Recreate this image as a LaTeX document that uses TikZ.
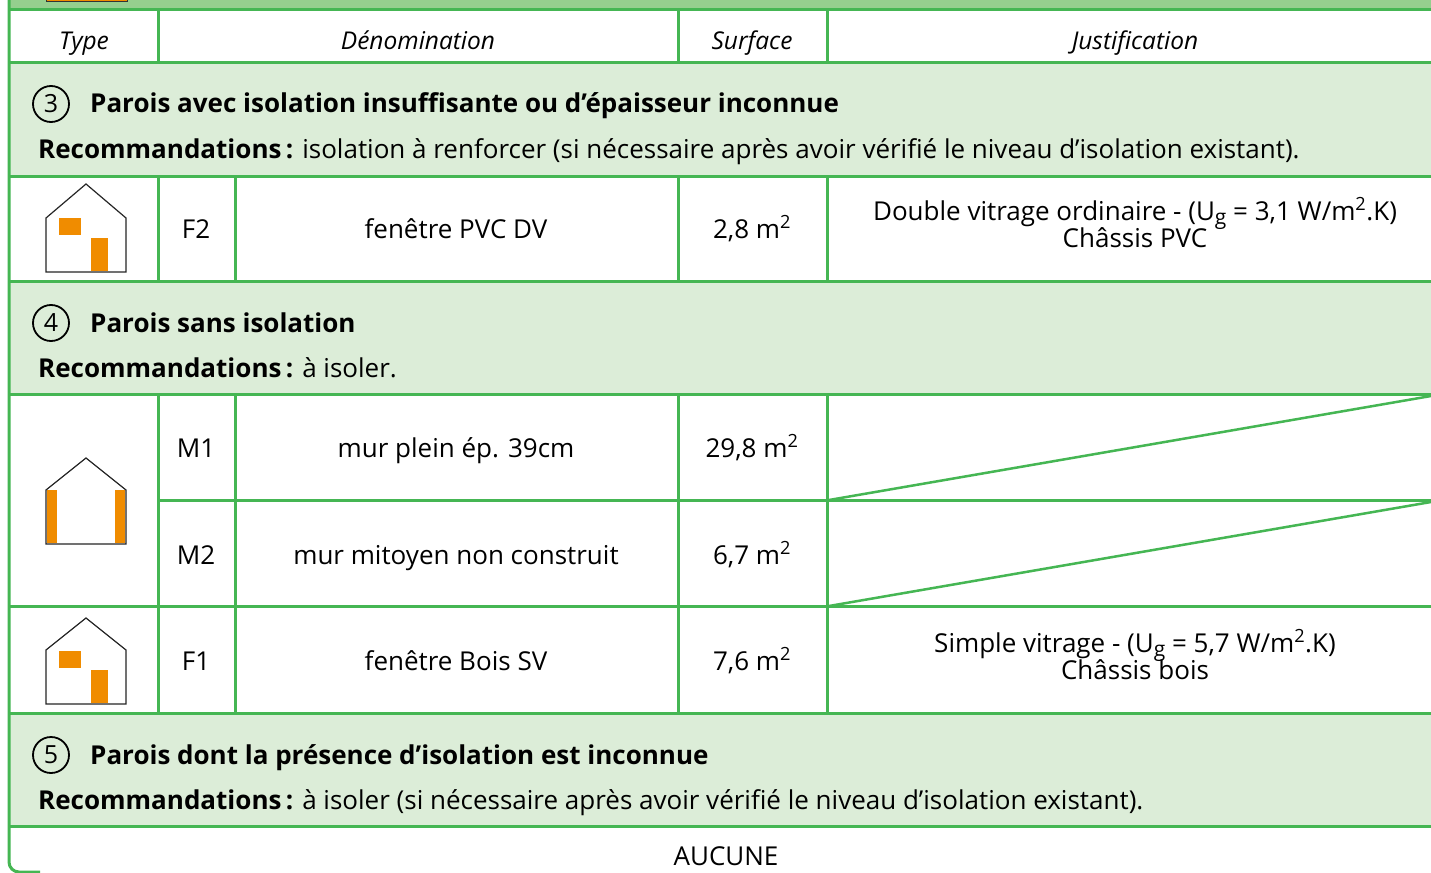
\documentclass[tikz,border=0pt]{standalone}
\usepackage{fontspec}
\setmainfont{Open Sans}
\definecolor{gline}{HTML}{45B653}
\definecolor{gfill}{HTML}{DCEDD8}
\definecolor{gtop}{HTML}{95CF8E}
\definecolor{orng}{HTML}{F08C00}
\newcommand{\sq}{\textsuperscript{2}}
\newcommand{\Ug}{U\raisebox{-0.35ex}{\fontsize{21}{21}\selectfont g}}
\begin{document}
\begin{tikzpicture}[x=1pt,y=-1pt,
  grid/.style={draw=gline,line width=3pt},
  body/.style={font=\fontsize{26}{28}\selectfont,inner sep=0pt,anchor=base},
  hdr/.style={font=\fontsize{24.5}{28}\selectfont\itshape,inner sep=0pt,anchor=base},
  ttl/.style={font=\fontsize{26}{28}\selectfont\bfseries,inner sep=0pt,anchor=base west},
  rec/.style={font=\fontsize{26}{28}\selectfont,inner sep=0pt,anchor=base west},
  num/.style={circle,draw=black,line width=1.8pt,minimum size=36pt,inner sep=0pt,font=\fontsize{25}{28}\selectfont},
  just/.style={font=\fontsize{26}{28}\selectfont,inner sep=0pt,align=center,anchor=base},
  house/.style={draw=black!85,line width=1.2pt,fill=white},
  orangebox/.style={fill=orng}]
\useasboundingbox (0,0) rectangle (1431,872);
\fill[white] (0,0) rectangle (1431,872);
% top strip
\fill[gtop] (9,0) rectangle (1431,10);
\filldraw[fill=orng,draw=black!80,line width=1pt] (46,-5) rectangle (127,1.5);
% section fills
\fill[gfill] (9,63) rectangle (1431,176);
\fill[gfill] (9,281) rectangle (1431,394);
\fill[gfill] (9,713) rectangle (1431,826);
% horizontal lines
\foreach \yy in {10,63,176,281,394,606,713,826}
  \draw[grid] (9,\yy) -- (1431,\yy);
\draw[grid] (158,500) -- (1431,500);
% left border with rounded bottom corner
\draw[grid,rounded corners=10pt] (9,-2) -- (9,872) -- (40,872);
% verticals
\foreach \xx in {158,678,827} \draw[grid] (\xx,10) -- (\xx,63);
\foreach \xx in {158,235,678,827} \draw[grid] (\xx,176) -- (\xx,281);
\foreach \xx in {158,235,678,827} \draw[grid] (\xx,394) -- (\xx,713);
% diagonals
\coordinate (d1a) at (829,500); \coordinate (d1b) at (1431,396);
\coordinate (d2a) at (829,606); \coordinate (d2b) at (1431,502);
\draw[draw=gline,line width=2.5pt] (d1a) -- (d1b);
\draw[draw=gline,line width=2.5pt] (d2a) -- (d2b);
% header
\node[hdr] (hType) at (84,50) {Type};
\node[hdr] (hDen) at (418,50) {Dénomination};
\node[hdr] (hSurf) at (752,50) {Surface};
\node[hdr] (hJust) at (1135,50) {Justification};
% section 3
\node[num] (n3) at (51,104) {3};
\node[ttl] (t3) at (90,113) {Parois avec isolation insuffisante ou d’épaisseur inconnue};
\node[rec] (r3) at (38,158) {\textbf{Recommandations\,:} isolation à renforcer (si nécessaire après avoir vérifié le niveau d’isolation existant).};
% F2 row
\draw[house] (46,272) -- (46,218) -- (86,184) -- (126,218) -- (126,272) -- cycle;
\fill[orangebox] (59,218) rectangle (81,235);
\fill[orangebox] (91,238) rectangle (108,271.4);
\node[body] (f2) at (196,238) {F2};
\node[body] (f2d) at (456,238) {fenêtre PVC DV};
\node[body] (f2s) at (752,238) {2,8 m\sq};
\node[just] (f2j1) at (1135,220) {Double vitrage ordinaire - (\Ug{} = 3,1 W/m\sq.K)};
\node[just] (f2j2) at (1135,247) {Châssis PVC};
% section 4
\node[num] (n4) at (51,323) {4};
\node[ttl] (t4) at (90,332) {Parois sans isolation};
\node[rec] (r4) at (38,377) {\textbf{Recommandations\,:} à isoler.};
% M icon
\draw[house] (46,544) -- (46,490) -- (86,458) -- (126,490) -- (126,544) -- cycle;
\fill[orangebox] (46.6,490) rectangle (57,543.4);
\fill[orangebox] (115,490) rectangle (125.4,543.4);
\node[body] (m1) at (196,457) {M1};
\node[body] (m1d) at (456,457) {mur plein ép. 39cm};
\node[body] (m1s) at (752,457) {29,8 m\sq};
\node[body] (m2) at (196,564) {M2};
\node[body] (m2d) at (456,564) {mur mitoyen non construit};
\node[body] (m2s) at (752,564) {6,7 m\sq};
% F1 row
\draw[house] (46,704) -- (46,650) -- (86,618) -- (126,650) -- (126,704) -- cycle;
\fill[orangebox] (59,651) rectangle (81,668);
\fill[orangebox] (91,670) rectangle (108,703.4);
\node[body] (f1) at (196,670) {F1};
\node[body] (f1d) at (456,670) {fenêtre Bois SV};
\node[body] (f1s) at (752,670) {7,6 m\sq};
\node[just] (f1j1) at (1135,652) {Simple vitrage - (\Ug{} = 5,7 W/m\sq.K)};
\node[just] (f1j2) at (1135,679) {Châssis bois};
% section 5
\node[num] (n5) at (51,755) {5};
\node[ttl] (t5) at (90,764) {Parois dont la présence d’isolation est inconnue};
\node[rec] (r5) at (38,809) {\textbf{Recommandations\,:} à isoler (si nécessaire après avoir vérifié le niveau d’isolation existant).};
\node[body] (auc) at (726,865) {AUCUNE};
\end{tikzpicture}
\end{document}
